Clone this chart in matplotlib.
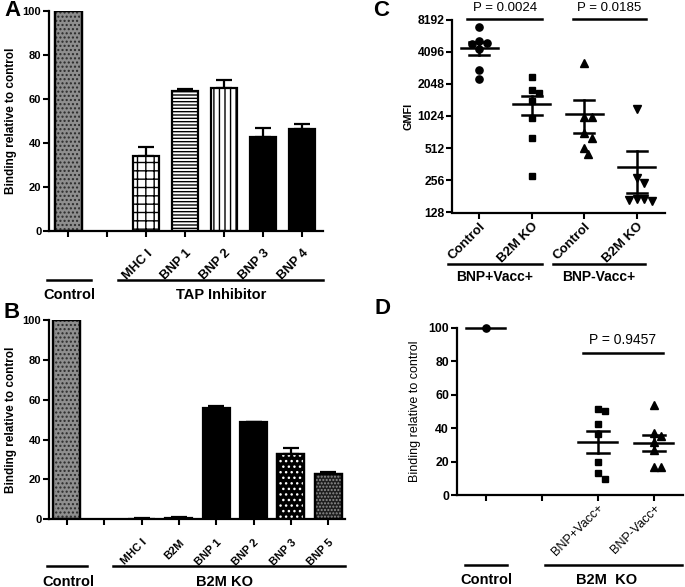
import numpy as np
import matplotlib
matplotlib.use('Agg')
import matplotlib.pyplot as plt
from matplotlib.lines import Line2D

plt.rcParams['font.family'] = ['Liberation Sans', 'DejaVu Sans']

# ---------------- data ----------------
a_labels = ['', '', 'MHC I', 'BNP 1', 'BNP 2', 'BNP 3', 'BNP 4']
a_values = [100, np.nan, 33.9, 63.7, 65.1, 42.8, 46.1]
a_errors = [0, 0, 4.3, 0.6, 3.5, 3.9, 2.5]
a_groups = ['Control', 'TAP Inhibitor']

b_labels = ['', '', 'MHC I', 'B2M', 'BNP 1', 'BNP 2', 'BNP 3', 'BNP 5']
b_values = [100, np.nan, 0.4, 0.5, 56.0, 48.8, 32.9, 22.6]
b_errors = [0, 0, 0.1, 0.5, 0.7, 0.2, 2.7, 1.1]
b_groups = ['Control', 'B2M KO']

c_labels = ['Control', 'B2M KO', 'Control', 'B2M KO']
c_groups = ['BNP+Vacc+', 'BNP-Vacc+']
c_pvalues = ['P = 0.0024', 'P = 0.0185']
c_bnp_pos_control = [6920, 4910, 4800, 5120, 4310, 2763, 2260]
c_bnp_pos_b2mko = [2390, 1795, 1697, 1428, 977, 644, 284]
c_bnp_neg_control = [3190, 995, 995, 708, 644, 519, 449]
c_bnp_neg_b2mko = [1188, 268, 241, 170, 165, 168, 172]
c_yticks = [128, 256, 512, 1024, 2048, 4096, 8192]

d_labels = ['', '', 'BNP+Vacc+', 'BNP-Vacc+']
d_groups = ['Control', 'B2M  KO']
d_pvalue = 'P = 0.9457'
d_control = [100]
d_bnp_pos = [50.4, 51.4, 42.3, 36.5, 19.9, 13.0, 9.6]
d_bnp_neg = [53.8, 37.2, 35.3, 31.9, 26.9, 16.9, 16.9]

# ---------------- layout helpers ----------------
W, H = 685, 587
fig = plt.figure(figsize=(W / 100, H / 100), dpi=100)


def ax_px(l, t, r, b):
    return fig.add_axes([l / W, 1 - b / H, (r - l) / W, (b - t) / H])


def fline(x1, x2, y, lw=1.8):
    fig.add_artist(Line2D([x1 / W, x2 / W], [1 - y / H, 1 - y / H],
                          transform=fig.transFigure, color='black', lw=lw))


def ftext(x, y, s, size=10.5, weight='bold', **kw):
    fig.text(x / W, 1 - y / H, s, ha='center', va='center',
             fontsize=size, fontweight=weight, **kw)


def style_axes(ax, ysize=8, xpad=1.5):
    for s in ['top', 'right']:
        ax.spines[s].set_visible(False)
    for s in ['left', 'bottom']:
        ax.spines[s].set_linewidth(1.6)
    ax.tick_params(direction='out', length=4, width=1.5, pad=1.5)
    ax.tick_params(axis='y', labelsize=ysize)
    ax.tick_params(axis='x', pad=xpad)
    for lab in ax.get_yticklabels():
        lab.set_fontweight('bold')


def bars(ax, labels, values, errors, styles, width, xlim, xsize, xpad):
    x = np.arange(len(values))
    for i, (v, e) in enumerate(zip(values, errors)):
        if np.isnan(v):
            continue
        st = styles[i]
        ax.bar(x[i], v, width=width, color=st['fc'], edgecolor='black',
               hatch=st.get('h'), linewidth=1.6, zorder=2)
        if st.get('over'):
            ax.bar(x[i], v, width=width - 0.06, color='none', edgecolor=st['over_c'],
                   hatch=st['over'], linewidth=0, zorder=3)
            ax.bar(x[i], v, width=width, color='none', edgecolor='black',
                   linewidth=1.6, zorder=4)
        if e > 0:
            ax.errorbar(x[i], v, yerr=[[0], [e]], color='black', capsize=5.5,
                        elinewidth=1.6, capthick=1.6, zorder=1)
    ax.set_xlim(*xlim)
    ax.set_ylim(0, 100)
    ax.set_yticks([0, 20, 40, 60, 80, 100])
    ax.set_xticks(x)
    ax.set_xticklabels(labels, rotation=45, ha='right', va='top',
                       rotation_mode='anchor', fontsize=xsize, fontweight='bold')
    style_axes(ax, ysize=8, xpad=xpad)
    ax.set_ylabel('Binding relative to control', fontsize=8.5, fontweight='bold', labelpad=4)


CTRL = {'fc': '#8e8e8e', 'over': '....', 'over_c': '#2a2a2a'}
BLACK = {'fc': 'black'}

# ---------------- Panel A ----------------
axA = ax_px(49, 11, 323, 230.7)
a_styles = [CTRL, None, {'fc': 'white', 'h': '++'}, {'fc': 'white', 'h': '-----'},
            {'fc': 'white', 'h': '|||'}, BLACK, BLACK]
bars(axA, a_labels, a_values, a_errors, a_styles, 0.69, (-0.49, 6.54), 9.3, 8)
fline(47, 91, 280)
fline(118, 323, 280)
ftext(69, 295, a_groups[0])
ftext(221, 295, a_groups[1])
ftext(12, 11, 'A', size=16)

# ---------------- Panel B ----------------
axB = ax_px(49, 320, 345, 519.3)
b_styles = [CTRL, None, BLACK, BLACK, BLACK, BLACK,
            {'fc': 'black', 'over': '...', 'over_c': 'white'},
            {'fc': '#1e1e1e', 'over': '.....', 'over_c': '#909090'}]
bars(axB, b_labels, b_values, b_errors, b_styles, 0.72, (-0.48, 7.45), 8, 9)
fline(47, 87, 566)
fline(113, 345, 566)
ftext(68, 581.5, b_groups[0])
ftext(225, 581.5, b_groups[1])
ftext(12, 312, 'B', size=16)


# ---------------- scatter helpers ----------------
def swarm_x(ax, x0, vals, dpx):
    vals = np.asarray(vals, float)
    disp = ax.transData.transform(np.column_stack([np.full(len(vals), x0), vals]))
    xc = disp[0, 0]
    ys = disp[:, 1]
    order = np.argsort(-vals)
    xs = np.zeros(len(vals))
    placed = []
    offs = [0, 0.5, -0.5, 1, -1, 1.5, -1.5, 2, -2]
    for i in order:
        for k in offs:
            cx = xc + k * dpx
            if all((cx - px) ** 2 + (ys[i] - py) ** 2 >= (dpx * 0.95) ** 2 for px, py in placed):
                break
        placed.append((cx, ys[i]))
        xs[i] = cx
    inv = ax.transData.inverted()
    return inv.transform(np.column_stack([xs, ys]))[:, 0]


def mean_sem(ax, x0, vals, mw=0.35, sw=0.19):
    v = np.asarray(vals, float)
    m = v.mean()
    s = v.std(ddof=1) / np.sqrt(len(v)) if len(v) > 1 else 0
    ax.plot([x0 - mw, x0 + mw], [m, m], color='black', lw=1.8, zorder=4, clip_on=False)
    if s > 0:
        ax.plot([x0, x0], [m - s, m + s], color='black', lw=1.8, zorder=4)
        for yy in (m - s, m + s):
            ax.plot([x0 - sw, x0 + sw], [yy, yy], color='black', lw=1.8, zorder=4)


# ---------------- Panel C ----------------
axC = ax_px(452.3, 19.5, 665, 212.5)
axC.set_yscale('log', base=2)
axC.set_ylim(128, 8192)
axC.set_xlim(-0.515, 3.54)
axC.set_yticks(c_yticks)
axC.set_yticklabels([str(t) for t in c_yticks])
axC.minorticks_off()
axC.set_xticks(range(4))
axC.set_xticklabels(c_labels, rotation=45, ha='right', va='top',
                    rotation_mode='anchor', fontsize=9.5, fontweight='bold')
style_axes(axC, ysize=8.7, xpad=2)
axC.set_ylabel('GMFI', fontsize=7.8, fontweight='bold', labelpad=3)
c_sets = [(c_bnp_pos_control, 'o', 5.2), (c_bnp_pos_b2mko, 's', 4.6),
          (c_bnp_neg_control, '^', 5.4), (c_bnp_neg_b2mko, 'v', 5.4)]
for i, (vals, mk, ms) in enumerate(c_sets):
    xs = swarm_x(axC, i, vals, 7.5)
    axC.plot(xs, vals, linestyle='none', marker=mk, ms=ms, color='black', zorder=3)
    mean_sem(axC, i, vals)
fline(467, 542, 19)
fline(573, 646, 19)
ftext(505, 8, c_pvalues[0], size=9.5, weight='normal')
ftext(609.5, 8, c_pvalues[1], size=9.5, weight='normal')
fline(448, 542, 264.3)
fline(553, 645, 264.3)
ftext(495, 277, c_groups[0], size=10)
ftext(599, 277, c_groups[1], size=10)
ftext(381, 11, 'C', size=16)

# ---------------- Panel D ----------------
axD = ax_px(456.7, 327.7, 683, 495)
axD.set_ylim(0, 100)
axD.set_xlim(-0.52, 3.52)
axD.set_yticks([0, 20, 40, 60, 80, 100])
axD.set_xticks(range(4))
axD.set_xticklabels(d_labels, rotation=45, ha='right', va='top',
                    rotation_mode='anchor', fontsize=9)
style_axes(axD, ysize=8.8, xpad=1)
axD.set_ylabel('Binding relative to control', fontsize=9, labelpad=5)
d_sets = [(0, d_control, 'o', 5.2), (2, d_bnp_pos, 's', 4.6), (3, d_bnp_neg, '^', 5.4)]
for x0, vals, mk, ms in d_sets:
    xs = swarm_x(axD, x0, vals, 7.5)
    axD.plot(xs, vals, linestyle='none', marker=mk, ms=ms, color='black', zorder=3, clip_on=False)
    mean_sem(axD, x0, vals)
fline(583, 663, 352.7)
ftext(623, 340, d_pvalue, size=10, weight='normal')
fline(465, 507, 565)
fline(545, 682, 565)
ftext(486, 580, d_groups[0])
ftext(607, 580, d_groups[1])
ftext(382, 309, 'D', size=16)

fig.savefig('out.png', dpi=100)
